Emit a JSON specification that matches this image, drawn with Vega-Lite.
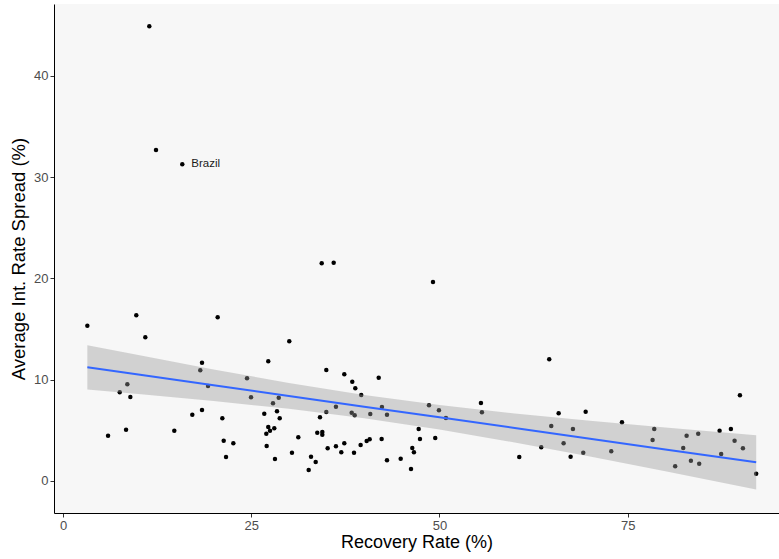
{
  "$schema": "https://vega.github.io/schema/vega-lite/v6.json",
  "width": 725,
  "height": 509,
  "autosize": "none",
  "padding": {"left": 54, "top": 4, "right": 0, "bottom": 46},
  "background": "white",
  "view": {"fill": "#F7F7F7", "stroke": null},
  "config": {
    "font": "Liberation Sans",
    "axis": {
      "grid": false,
      "domainColor": "#000000",
      "domainWidth": 1,
      "tickColor": "#333333",
      "tickSize": 4,
      "labelFont": "Liberation Sans",
      "labelFontSize": 13,
      "labelColor": "#4D4D4D",
      "labelPadding": 2,
      "titleFont": "Liberation Sans",
      "titleFontWeight": "normal",
      "titleColor": "#000000"
    }
  },
  "datasets": {
    "pts": [
      {"recovery": 3.23, "spread": 15.33, "country": ""},
      {"recovery": 9.73, "spread": 16.36, "country": ""},
      {"recovery": 10.93, "spread": 14.19, "country": ""},
      {"recovery": 20.54, "spread": 16.16, "country": ""},
      {"recovery": 18.46, "spread": 11.68, "country": ""},
      {"recovery": 18.23, "spread": 10.93, "country": ""},
      {"recovery": 19.26, "spread": 9.38, "country": ""},
      {"recovery": 24.44, "spread": 10.14, "country": ""},
      {"recovery": 24.97, "spread": 8.26, "country": ""},
      {"recovery": 8.54, "spread": 9.55, "country": ""},
      {"recovery": 7.53, "spread": 8.76, "country": ""},
      {"recovery": 8.94, "spread": 8.29, "country": ""},
      {"recovery": 17.17, "spread": 6.54, "country": ""},
      {"recovery": 18.46, "spread": 7.01, "country": ""},
      {"recovery": 21.16, "spread": 6.19, "country": ""},
      {"recovery": 5.98, "spread": 4.47, "country": ""},
      {"recovery": 8.37, "spread": 5.06, "country": ""},
      {"recovery": 14.78, "spread": 4.97, "country": ""},
      {"recovery": 21.34, "spread": 3.98, "country": ""},
      {"recovery": 22.62, "spread": 3.72, "country": ""},
      {"recovery": 21.65, "spread": 2.37, "country": ""},
      {"recovery": 30.05, "spread": 13.79, "country": ""},
      {"recovery": 27.26, "spread": 11.82, "country": ""},
      {"recovery": 34.97, "spread": 10.96, "country": ""},
      {"recovery": 37.36, "spread": 10.53, "country": ""},
      {"recovery": 38.42, "spread": 9.8, "country": ""},
      {"recovery": 38.82, "spread": 9.15, "country": ""},
      {"recovery": 39.61, "spread": 8.49, "country": ""},
      {"recovery": 41.93, "spread": 10.2, "country": ""},
      {"recovery": 28.65, "spread": 8.22, "country": ""},
      {"recovery": 27.89, "spread": 7.67, "country": ""},
      {"recovery": 28.42, "spread": 6.88, "country": ""},
      {"recovery": 26.73, "spread": 6.64, "country": ""},
      {"recovery": 28.78, "spread": 6.19, "country": ""},
      {"recovery": 36.25, "spread": 7.33, "country": ""},
      {"recovery": 34.97, "spread": 6.81, "country": ""},
      {"recovery": 34.13, "spread": 6.29, "country": ""},
      {"recovery": 38.34, "spread": 6.74, "country": ""},
      {"recovery": 38.74, "spread": 6.49, "country": ""},
      {"recovery": 40.81, "spread": 6.61, "country": ""},
      {"recovery": 42.36, "spread": 7.31, "country": ""},
      {"recovery": 43.03, "spread": 6.54, "country": ""},
      {"recovery": 48.61, "spread": 7.47, "country": ""},
      {"recovery": 49.93, "spread": 6.98, "country": ""},
      {"recovery": 27.26, "spread": 5.33, "country": ""},
      {"recovery": 27.0, "spread": 4.67, "country": ""},
      {"recovery": 27.49, "spread": 4.97, "country": ""},
      {"recovery": 28.06, "spread": 5.2, "country": ""},
      {"recovery": 27.05, "spread": 3.46, "country": ""},
      {"recovery": 28.15, "spread": 2.17, "country": ""},
      {"recovery": 31.25, "spread": 4.31, "country": ""},
      {"recovery": 30.41, "spread": 2.79, "country": ""},
      {"recovery": 32.94, "spread": 2.4, "country": ""},
      {"recovery": 33.56, "spread": 1.88, "country": ""},
      {"recovery": 32.63, "spread": 1.09, "country": ""},
      {"recovery": 33.77, "spread": 4.77, "country": ""},
      {"recovery": 34.44, "spread": 4.84, "country": ""},
      {"recovery": 34.44, "spread": 4.57, "country": ""},
      {"recovery": 35.15, "spread": 3.23, "country": ""},
      {"recovery": 36.25, "spread": 3.43, "country": ""},
      {"recovery": 37.36, "spread": 3.72, "country": ""},
      {"recovery": 36.96, "spread": 2.83, "country": ""},
      {"recovery": 38.65, "spread": 2.79, "country": ""},
      {"recovery": 39.53, "spread": 3.55, "country": ""},
      {"recovery": 40.33, "spread": 3.95, "country": ""},
      {"recovery": 40.73, "spread": 4.12, "country": ""},
      {"recovery": 42.32, "spread": 4.15, "country": ""},
      {"recovery": 43.03, "spread": 2.04, "country": ""},
      {"recovery": 44.85, "spread": 2.2, "country": ""},
      {"recovery": 46.22, "spread": 1.18, "country": ""},
      {"recovery": 46.39, "spread": 3.26, "country": ""},
      {"recovery": 46.61, "spread": 2.83, "country": ""},
      {"recovery": 47.24, "spread": 5.13, "country": ""},
      {"recovery": 47.41, "spread": 4.15, "country": ""},
      {"recovery": 49.44, "spread": 4.24, "country": ""},
      {"recovery": 50.86, "spread": 6.22, "country": ""},
      {"recovery": 55.51, "spread": 7.7, "country": ""},
      {"recovery": 55.64, "spread": 6.78, "country": ""},
      {"recovery": 60.6, "spread": 2.37, "country": ""},
      {"recovery": 63.52, "spread": 3.33, "country": ""},
      {"recovery": 64.85, "spread": 5.43, "country": ""},
      {"recovery": 65.83, "spread": 6.68, "country": ""},
      {"recovery": 66.49, "spread": 3.72, "country": ""},
      {"recovery": 67.73, "spread": 5.13, "country": ""},
      {"recovery": 67.42, "spread": 2.4, "country": ""},
      {"recovery": 69.42, "spread": 6.84, "country": ""},
      {"recovery": 69.1, "spread": 2.79, "country": ""},
      {"recovery": 72.82, "spread": 2.93, "country": ""},
      {"recovery": 74.24, "spread": 5.79, "country": ""},
      {"recovery": 78.53, "spread": 5.13, "country": ""},
      {"recovery": 78.31, "spread": 4.05, "country": ""},
      {"recovery": 81.31, "spread": 1.45, "country": ""},
      {"recovery": 82.38, "spread": 3.26, "country": ""},
      {"recovery": 82.83, "spread": 4.47, "country": ""},
      {"recovery": 84.37, "spread": 4.67, "country": ""},
      {"recovery": 83.4, "spread": 2.0, "country": ""},
      {"recovery": 84.5, "spread": 1.71, "country": ""},
      {"recovery": 87.21, "spread": 4.97, "country": ""},
      {"recovery": 88.71, "spread": 5.13, "country": ""},
      {"recovery": 87.42, "spread": 2.67, "country": ""},
      {"recovery": 89.2, "spread": 3.98, "country": ""},
      {"recovery": 89.91, "spread": 8.46, "country": ""},
      {"recovery": 90.31, "spread": 3.23, "country": ""},
      {"recovery": 92.07, "spread": 0.72, "country": ""},
      {"recovery": 11.46, "spread": 44.89, "country": ""},
      {"recovery": 12.35, "spread": 32.68, "country": ""},
      {"recovery": 15.84, "spread": 31.26, "country": "Brazil"},
      {"recovery": 34.36, "spread": 21.49, "country": ""},
      {"recovery": 35.95, "spread": 21.55, "country": ""},
      {"recovery": 49.14, "spread": 19.64, "country": ""},
      {"recovery": 64.58, "spread": 12.01, "country": ""}
    ],
    "band": [
      {"x": 3.23, "fit": 11.22, "lo": 9.03, "hi": 13.41},
      {"x": 10, "fit": 10.51, "lo": 8.59, "hi": 12.43},
      {"x": 20, "fit": 9.45, "lo": 7.89, "hi": 11.01},
      {"x": 30, "fit": 8.4, "lo": 7.12, "hi": 9.68},
      {"x": 40, "fit": 7.34, "lo": 6.2, "hi": 8.48},
      {"x": 50, "fit": 6.29, "lo": 5.09, "hi": 7.49},
      {"x": 60, "fit": 5.23, "lo": 3.8, "hi": 6.66},
      {"x": 70, "fit": 4.18, "lo": 2.41, "hi": 5.95},
      {"x": 80, "fit": 3.12, "lo": 0.96, "hi": 5.28},
      {"x": 92.07, "fit": 1.84, "lo": -0.84, "hi": 4.52}
    ]
  },
  "layer": [
    {
      "data": {"name": "pts"},
      "mark": {"type": "circle", "size": 20, "color": "#000000", "opacity": 1},
      "encoding": {
        "x": {"field": "recovery", "type": "quantitative",
              "scale": {"domain": [-1.2, 95.1], "nice": false, "zero": false},
              "axis": {"values": [0, 25, 50, 75], "title": "Recovery Rate (%)", "titleFontSize": 18, "titlePadding": 1}},
        "y": {"field": "spread", "type": "quantitative",
              "scale": {"domain": [-3.16, 47.09], "nice": false, "zero": false},
              "axis": {"values": [0, 10, 20, 30, 40], "title": "Average Int. Rate Spread (%)", "titleFontSize": 18.5, "titlePadding": 5}}
      }
    },
    {
      "data": {"name": "band"},
      "mark": {"type": "area", "color": "#999999", "opacity": 0.4},
      "encoding": {
        "x": {"field": "x", "type": "quantitative"},
        "y": {"field": "lo", "type": "quantitative"},
        "y2": {"field": "hi"}
      }
    },
    {
      "data": {"name": "band"},
      "mark": {"type": "line", "color": "#3366FF", "strokeWidth": 2},
      "encoding": {
        "x": {"field": "x", "type": "quantitative"},
        "y": {"field": "fit", "type": "quantitative"}
      }
    },
    {
      "data": {"name": "pts"},
      "transform": [{"filter": "datum.country != ''"}],
      "mark": {"type": "text", "align": "left", "baseline": "middle", "dx": 9, "fontSize": 11.5, "color": "#1A1A1A", "font": "Liberation Sans"},
      "encoding": {
        "x": {"field": "recovery", "type": "quantitative"},
        "y": {"field": "spread", "type": "quantitative"},
        "text": {"field": "country"}
      }
    }
  ]
}
